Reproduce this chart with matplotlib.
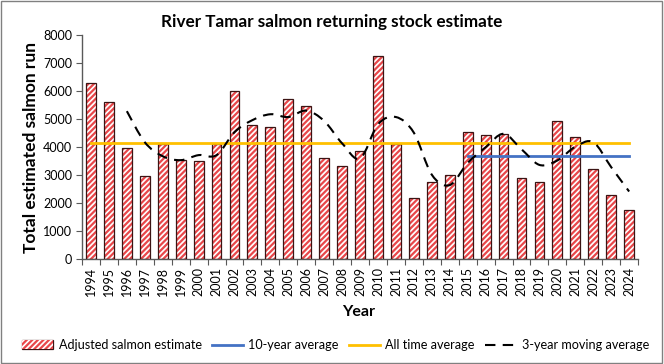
import numpy as np
import matplotlib
matplotlib.use("Agg")
import matplotlib.pyplot as plt
from matplotlib.path import Path
from matplotlib.patches import PathPatch, Patch, Rectangle
from matplotlib.lines import Line2D

plt.rcParams['font.family'] = ['Lato', 'DejaVu Sans']
plt.rcParams['hatch.linewidth'] = 1.6

# dane
years = [str(y) for y in range(1994, 2025)]
salmon = [6300, 5600, 3950, 2960, 4100, 3540, 3500, 4100, 6000, 4790,
          4710, 5710, 5470, 3600, 3320, 3850, 7250, 4110, 2180, 2750,
          3000, 4540, 4420, 4450, 2880, 2750, 4930, 4350, 3230, 2270, 1740]
moving_years = years[2:]
moving_avg = [5280, 4170, 3670, 3530, 3710, 3710, 4530, 4960, 5170, 5070,
              5300, 4930, 4130, 3590, 4810, 5070, 4510, 3010, 2640, 3430,
              3990, 4470, 3920, 3360, 3520, 4010, 4170, 3280, 2410]
all_time_avg = 4160
ten_year_avg = 3680
ten_year_from = "2015"

fig = plt.figure(figsize=(6.64, 3.64), dpi=100)
ax = fig.add_axes([0.1235, 0.2885, 0.8375, 0.6153])

x = np.arange(len(years))
# slupki: czerwone kreskowanie + ciemny obrys
ax.bar(x, salmon, width=0.55, color='white', edgecolor='#e8474a',
       hatch='//////', linewidth=0, zorder=2)
ax.bar(x, salmon, width=0.55, fill=False, edgecolor='#3b1414',
       linewidth=0.9, zorder=3)

# srednie
ax.plot([0, len(years) - 1], [all_time_avg] * 2, color='#ffc000', lw=2, zorder=4)
i0 = years.index(ten_year_from)
ax.plot([i0, len(years) - 1], [ten_year_avg] * 2, color='#4472c4', lw=2, zorder=4)

# srednia ruchoma - wygladzona krzywa (Catmull-Rom -> Bezier)
mx = np.array([years.index(y) for y in moving_years], dtype=float)
my = np.array(moving_avg, dtype=float)
pts = np.column_stack([mx, my])
verts = [pts[0]]
codes = [Path.MOVETO]
n = len(pts)
for i in range(n - 1):
    p0 = pts[max(i - 1, 0)]
    p1 = pts[i]
    p2 = pts[i + 1]
    p3 = pts[min(i + 2, n - 1)]
    verts += [p1 + (p2 - p0) / 6.0, p2 - (p3 - p1) / 6.0, p2]
    codes += [Path.CURVE4] * 3
ax.add_patch(PathPatch(Path(verts, codes), fill=False, edgecolor='black',
                       lw=1.5, linestyle=(0, (5, 3.5)), zorder=5))

ax.set_ylim(0, 8000)
ax.set_xlim(-0.5, len(years) - 0.5)
ax.set_yticks(range(0, 8001, 1000))
ax.tick_params(axis='y', labelsize=9, length=4, color='#595959', pad=3)

ax.set_xticks(np.arange(-0.5, len(years), 1.0))
ax.set_xticklabels([])
ax.tick_params(axis='x', which='major', length=4, color='#595959')
ax.set_xticks(x, minor=True)
ax.set_xticklabels(years, minor=True, rotation=90, fontsize=9)
ax.tick_params(axis='x', which='minor', length=0, pad=6)

for s in ['top', 'right']:
    ax.spines[s].set_visible(False)
for s in ['left', 'bottom']:
    ax.spines[s].set_color('#595959')
    ax.spines[s].set_linewidth(1)

ax.set_ylabel('Total estimated salmon run', fontsize=12.5, fontweight='bold', labelpad=3)
fig.text(0.54, 0.143, 'Year', ha='center', va='center', fontsize=11.5, fontweight='bold')
fig.text(0.5, 0.94, 'River Tamar salmon returning stock estimate', ha='center',
         va='center', fontsize=12.3, fontweight='bold')

handles = [
    Patch(facecolor='white', edgecolor='#e8474a', hatch='//////', linewidth=0),
    Line2D([], [], color='#4472c4', lw=2),
    Line2D([], [], color='#ffc000', lw=2),
    Line2D([], [], color='black', lw=1.5, linestyle=(0, (5, 3.5))),
]
labels = ['Adjusted salmon estimate', '10-year average', 'All time average',
          '3-year moving average']
leg = fig.legend(handles, labels, loc='center', bbox_to_anchor=(0.505, 0.052), ncol=4,
                 frameon=False, fontsize=9.1, handlelength=2.5, columnspacing=0.8,
                 handletextpad=0.4)
# ciemny obrys wokol probki slupka w legendzie
leg.legend_handles[0].set_path_effects([])
fig.canvas.draw()
bb = leg.legend_handles[0].get_window_extent()
fig.patches.append(Rectangle((bb.x0, bb.y0), bb.width, bb.height, transform=None,
                             fill=False, edgecolor='#3b1414', lw=0.9))

fig.patches.append(Rectangle((0.002, 0.003), 0.995, 0.994, transform=fig.transFigure,
                             fill=False, edgecolor='#808080', lw=1))

fig.savefig('out.png', dpi=100)
